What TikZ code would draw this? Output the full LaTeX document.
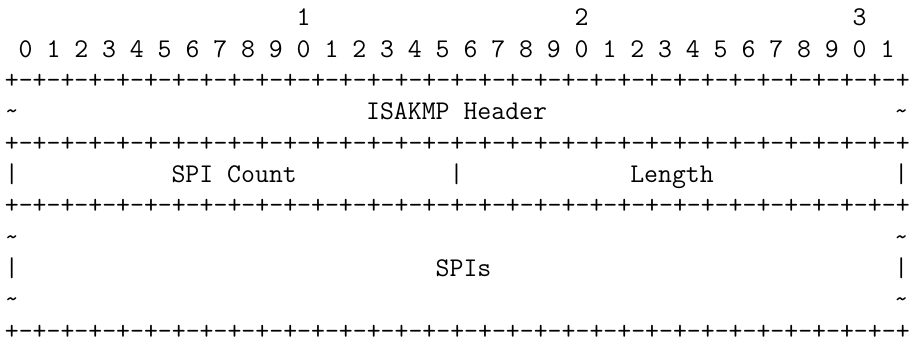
\documentclass[tikz,border=0pt]{standalone}
\begin{document}
\begin{tikzpicture}[x=1pt,y=-1pt]
\tikzset{asc/.style={font=\fontsize{27.03}{31.3}\selectfont\ttfamily, inner sep=0pt, outer sep=0pt, anchor=base}}
\def\W{13.9}\def\X{11.8}\def\P{31.3}\def\B{26}
\def\pp{+-+-+-+-}
\def\rulestr{\pp\pp\pp\pp\pp\pp\pp\pp+}
\useasboundingbox (0,0) rectangle (911,345);
% tens row
\foreach \d/\c in {1/21,2/41,3/61}
  \node[asc] (ten\d) at ({\X+\W*\c},{\B}) {\d};
% bit numbers
\foreach \i in {0,...,31} {
  \pgfmathtruncatemacro\dig{mod(\i,10)}
  \node[asc] (bit\i) at ({\X+\W*(2*\i+1)},{\B+\P}) {\dig};
}
% separator rules
\foreach \r in {2,4,6,10}
  \node[asc, anchor=base west] (rule\r) at ({\X-\W/2},{\B+\P*\r}) {\rulestr};
% side marks
\foreach \r in {3,7,9} {
  \node[asc] (tl\r) at ({\X},{\B+\P*\r}) {\char126};
  \node[asc] (tr\r) at ({\X+\W*64},{\B+\P*\r}) {\char126};
}
\foreach \r in {5,8} {
  \node[asc] (bl\r) at ({\X},{\B+\P*\r}) {\char124};
  \node[asc] (br\r) at ({\X+\W*64},{\B+\P*\r}) {\char124};
}
\node[asc] (bm5) at ({\X+\W*32},{\B+\P*5}) {\char124};
% field labels
\node[asc] (hdr) at ({\X+\W*32},{\B+\P*3}) {ISAKMP Header};
\node[asc] (cnt) at ({\X+\W*16},{\B+\P*5}) {SPI Count};
\node[asc] (len) at ({\X+\W*47.5},{\B+\P*5}) {Length};
\node[asc] (spis) at ({\X+\W*32.5},{\B+\P*8}) {SPIs};
\end{tikzpicture}
\end{document}
